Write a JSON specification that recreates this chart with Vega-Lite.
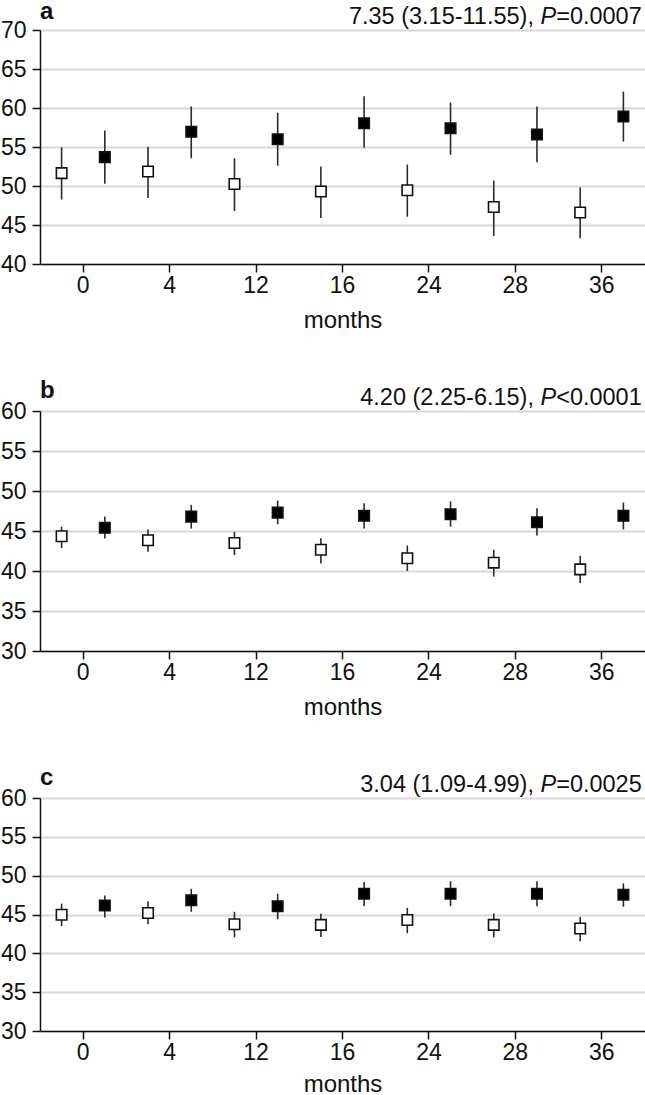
{
  "$schema": "https://vega.github.io/schema/vega-lite/v6.json",
  "padding": {"left": 0, "top": 0, "right": 0, "bottom": 0},
  "background": "white",
  "config": {
    "font": "Liberation Sans",
    "view": {"stroke": null},
    "axis": {
      "labelFont": "Liberation Sans",
      "titleFont": "Liberation Sans",
      "labelFontSize": 23,
      "titleFontSize": 24,
      "titleFontWeight": "normal",
      "labelColor": "#111",
      "titleColor": "#111",
      "domainColor": "#111",
      "domainWidth": 1.5,
      "tickColor": "#111",
      "tickWidth": 1.5,
      "tickSize": 8
    },
    "text": {"font": "Liberation Sans", "fontSize": 23.5, "color": "#111", "baseline": "alphabetic"}
  },
  "datasets": {
    "points": [
      {"panel": "a", "month": "0", "group": "open", "mean": 51.65, "lo": 48.26, "hi": 54.96},
      {"panel": "a", "month": "4", "group": "open", "mean": 51.86, "lo": 48.47, "hi": 55.04},
      {"panel": "a", "month": "12", "group": "open", "mean": 50.25, "lo": 46.8, "hi": 53.56},
      {"panel": "a", "month": "16", "group": "open", "mean": 49.3, "lo": 45.9, "hi": 52.5},
      {"panel": "a", "month": "24", "group": "open", "mean": 49.45, "lo": 46.06, "hi": 52.75},
      {"panel": "a", "month": "28", "group": "open", "mean": 47.3, "lo": 43.6, "hi": 50.7},
      {"panel": "a", "month": "36", "group": "open", "mean": 46.6, "lo": 43.3, "hi": 49.8},
      {"panel": "a", "month": "0", "group": "filled", "mean": 53.7, "lo": 50.3, "hi": 57.1},
      {"panel": "a", "month": "4", "group": "filled", "mean": 56.95, "lo": 53.56, "hi": 60.2},
      {"panel": "a", "month": "12", "group": "filled", "mean": 56.0, "lo": 52.6, "hi": 59.4},
      {"panel": "a", "month": "16", "group": "filled", "mean": 58.05, "lo": 54.9, "hi": 61.5},
      {"panel": "a", "month": "24", "group": "filled", "mean": 57.4, "lo": 54.0, "hi": 60.7},
      {"panel": "a", "month": "28", "group": "filled", "mean": 56.6, "lo": 53.05, "hi": 60.2},
      {"panel": "a", "month": "36", "group": "filled", "mean": 58.9, "lo": 55.7, "hi": 62.1},
      {"panel": "b", "month": "0", "group": "open", "mean": 44.35, "lo": 42.87, "hi": 45.54},
      {"panel": "b", "month": "4", "group": "open", "mean": 43.84, "lo": 42.4, "hi": 45.2},
      {"panel": "b", "month": "12", "group": "open", "mean": 43.5, "lo": 42.0, "hi": 44.9},
      {"panel": "b", "month": "16", "group": "open", "mean": 42.65, "lo": 40.95, "hi": 44.1},
      {"panel": "b", "month": "24", "group": "open", "mean": 41.6, "lo": 40.0, "hi": 43.2},
      {"panel": "b", "month": "28", "group": "open", "mean": 41.04, "lo": 39.3, "hi": 42.65},
      {"panel": "b", "month": "36", "group": "open", "mean": 40.2, "lo": 38.5, "hi": 41.9},
      {"panel": "b", "month": "0", "group": "filled", "mean": 45.4, "lo": 44.05, "hi": 46.8},
      {"panel": "b", "month": "4", "group": "filled", "mean": 46.8, "lo": 45.3, "hi": 48.26},
      {"panel": "b", "month": "12", "group": "filled", "mean": 47.3, "lo": 45.84, "hi": 48.8},
      {"panel": "b", "month": "16", "group": "filled", "mean": 46.9, "lo": 45.3, "hi": 48.47},
      {"panel": "b", "month": "24", "group": "filled", "mean": 47.1, "lo": 45.54, "hi": 48.7},
      {"panel": "b", "month": "28", "group": "filled", "mean": 46.1, "lo": 44.44, "hi": 47.83},
      {"panel": "b", "month": "36", "group": "filled", "mean": 46.9, "lo": 45.2, "hi": 48.56},
      {"panel": "c", "month": "0", "group": "open", "mean": 44.97, "lo": 43.5, "hi": 46.4},
      {"panel": "c", "month": "4", "group": "open", "mean": 45.2, "lo": 43.74, "hi": 46.7},
      {"panel": "c", "month": "12", "group": "open", "mean": 43.74, "lo": 42.05, "hi": 45.35},
      {"panel": "c", "month": "16", "group": "open", "mean": 43.66, "lo": 42.1, "hi": 45.1},
      {"panel": "c", "month": "24", "group": "open", "mean": 44.3, "lo": 42.6, "hi": 45.86},
      {"panel": "c", "month": "28", "group": "open", "mean": 43.66, "lo": 42.05, "hi": 45.14},
      {"panel": "c", "month": "36", "group": "open", "mean": 43.2, "lo": 41.54, "hi": 44.67},
      {"panel": "c", "month": "0", "group": "filled", "mean": 46.15, "lo": 44.6, "hi": 47.46},
      {"panel": "c", "month": "4", "group": "filled", "mean": 46.83, "lo": 45.35, "hi": 48.3},
      {"panel": "c", "month": "12", "group": "filled", "mean": 46.07, "lo": 44.38, "hi": 47.67},
      {"panel": "c", "month": "16", "group": "filled", "mean": 47.67, "lo": 46.07, "hi": 49.2},
      {"panel": "c", "month": "24", "group": "filled", "mean": 47.67, "lo": 46.07, "hi": 49.28},
      {"panel": "c", "month": "28", "group": "filled", "mean": 47.67, "lo": 46.07, "hi": 49.28},
      {"panel": "c", "month": "36", "group": "filled", "mean": 47.55, "lo": 46.0, "hi": 49.0}
    ],
    "notes": [
      {"panel": "a", "top": 70, "letter": "a", "lead": "7.35 (3.15-11.55),", "p": "P", "tail": "=0.0007"},
      {"panel": "b", "top": 60, "letter": "b", "lead": "4.20 (2.25-6.15),", "p": "P", "tail": "<0.0001"},
      {"panel": "c", "top": 60, "letter": "c", "lead": "3.04 (1.09-4.99),", "p": "P", "tail": "=0.0025"}
    ]
  },
  "spacing": 47,
  "vconcat": [
    {
      "width": 605,
      "height": 234,
      "encoding": {
        "x": {"field": "month", "type": "ordinal", "sort": ["0", "4", "12", "16", "24", "28", "36"], "scale": {"paddingInner": 0, "paddingOuter": 0}, "axis": {"labelAngle": 0, "title": "months", "labelPadding": 2, "titlePadding": 11}},
        "xOffset": {"field": "group", "type": "nominal", "scale": {"domain": ["open", "filled"]}}
      },
      "layer": [
        {
          "data": {"name": "points"},
          "transform": [{"filter": "datum.panel === 'a'"}],
          "mark": {"type": "rule", "color": "#2a2a2a", "strokeWidth": 1.6},
          "encoding": {
            "y": {"field": "lo", "type": "quantitative", "scale": {"domain": [40, 70], "nice": false, "zero": false}, "axis": {"values": [40, 45, 50, 55, 60, 65, 70], "tickCount": 7, "title": null, "grid": true, "gridColor": "#d8d8d8", "gridWidth": 2, "labelPadding": 6}},
            "y2": {"field": "hi"}
          }
        },
        {
          "data": {"name": "points"},
          "transform": [{"filter": "datum.panel === 'a'"}],
          "mark": {"type": "point", "shape": "square", "size": 110, "filled": false, "stroke": "#111", "strokeWidth": 1.6, "opacity": 1},
          "encoding": {
            "y": {"field": "mean", "type": "quantitative", "axis": {"values": [40, 45, 50, 55, 60, 65, 70], "tickCount": 7, "title": null, "grid": true, "gridColor": "#d8d8d8", "gridWidth": 2, "labelPadding": 6}},
            "fill": {"field": "group", "type": "nominal", "scale": {"domain": ["open", "filled"], "range": ["white", "black"]}, "legend": null}
          }
        },
        {
          "data": {"name": "notes"},
          "transform": [{"filter": "datum.panel === 'a'"}],
          "encoding": {
            "x": {"datum": "36", "type": "ordinal"},
            "xOffset": {"value": 0},
            "y": {"field": "top", "type": "quantitative", "axis": {"values": [40, 45, 50, 55, 60, 65, 70], "tickCount": 7, "title": null, "grid": true, "gridColor": "#d8d8d8", "gridWidth": 2, "labelPadding": 6}}
          },
          "layer": [
            {"mark": {"type": "text", "align": "right", "dx": 83.2, "dy": -6}, "encoding": {"text": {"field": "tail"}}},
            {"mark": {"type": "text", "align": "right", "fontStyle": "italic", "dx": -2.4, "dy": -6}, "encoding": {"text": {"field": "p"}}},
            {"mark": {"type": "text", "align": "right", "dx": -24.6, "dy": -6}, "encoding": {"text": {"field": "lead"}}},
            {"mark": {"type": "text", "align": "left", "fontWeight": "bold", "fontSize": 24, "dx": -518.6, "dy": -11}, "encoding": {"text": {"field": "letter"}}}
          ]
        }
      ]
    },
    {
      "width": 605,
      "height": 240,
      "encoding": {
        "x": {"field": "month", "type": "ordinal", "sort": ["0", "4", "12", "16", "24", "28", "36"], "scale": {"paddingInner": 0, "paddingOuter": 0}, "axis": {"labelAngle": 0, "title": "months", "labelPadding": 2, "titlePadding": 11}},
        "xOffset": {"field": "group", "type": "nominal", "scale": {"domain": ["open", "filled"]}}
      },
      "layer": [
        {
          "data": {"name": "points"},
          "transform": [{"filter": "datum.panel === 'b'"}],
          "mark": {"type": "rule", "color": "#2a2a2a", "strokeWidth": 1.6},
          "encoding": {
            "y": {"field": "lo", "type": "quantitative", "scale": {"domain": [30, 60], "nice": false, "zero": false}, "axis": {"values": [30, 35, 40, 45, 50, 55, 60], "tickCount": 7, "title": null, "grid": true, "gridColor": "#d8d8d8", "gridWidth": 2, "labelPadding": 6}},
            "y2": {"field": "hi"}
          }
        },
        {
          "data": {"name": "points"},
          "transform": [{"filter": "datum.panel === 'b'"}],
          "mark": {"type": "point", "shape": "square", "size": 110, "filled": false, "stroke": "#111", "strokeWidth": 1.6, "opacity": 1},
          "encoding": {
            "y": {"field": "mean", "type": "quantitative", "axis": {"values": [30, 35, 40, 45, 50, 55, 60], "tickCount": 7, "title": null, "grid": true, "gridColor": "#d8d8d8", "gridWidth": 2, "labelPadding": 6}},
            "fill": {"field": "group", "type": "nominal", "scale": {"domain": ["open", "filled"], "range": ["white", "black"]}, "legend": null}
          }
        },
        {
          "data": {"name": "notes"},
          "transform": [{"filter": "datum.panel === 'b'"}],
          "encoding": {
            "x": {"datum": "36", "type": "ordinal"},
            "xOffset": {"value": 0},
            "y": {"field": "top", "type": "quantitative", "axis": {"values": [30, 35, 40, 45, 50, 55, 60], "tickCount": 7, "title": null, "grid": true, "gridColor": "#d8d8d8", "gridWidth": 2, "labelPadding": 6}}
          },
          "layer": [
            {"mark": {"type": "text", "align": "right", "dx": 83.2, "dy": -6}, "encoding": {"text": {"field": "tail"}}},
            {"mark": {"type": "text", "align": "right", "fontStyle": "italic", "dx": -2.4, "dy": -6}, "encoding": {"text": {"field": "p"}}},
            {"mark": {"type": "text", "align": "right", "dx": -24.6, "dy": -6}, "encoding": {"text": {"field": "lead"}}},
            {"mark": {"type": "text", "align": "left", "fontWeight": "bold", "fontSize": 24, "dx": -518.6, "dy": -13}, "encoding": {"text": {"field": "letter"}}}
          ]
        }
      ]
    },
    {
      "width": 605,
      "height": 233,
      "encoding": {
        "x": {"field": "month", "type": "ordinal", "sort": ["0", "4", "12", "16", "24", "28", "36"], "scale": {"paddingInner": 0, "paddingOuter": 0}, "axis": {"labelAngle": 0, "title": "months", "labelPadding": 2, "titlePadding": 8}},
        "xOffset": {"field": "group", "type": "nominal", "scale": {"domain": ["open", "filled"]}}
      },
      "layer": [
        {
          "data": {"name": "points"},
          "transform": [{"filter": "datum.panel === 'c'"}],
          "mark": {"type": "rule", "color": "#2a2a2a", "strokeWidth": 1.6},
          "encoding": {
            "y": {"field": "lo", "type": "quantitative", "scale": {"domain": [30, 60], "nice": false, "zero": false}, "axis": {"values": [30, 35, 40, 45, 50, 55, 60], "tickCount": 7, "title": null, "grid": true, "gridColor": "#d8d8d8", "gridWidth": 2, "labelPadding": 6}},
            "y2": {"field": "hi"}
          }
        },
        {
          "data": {"name": "points"},
          "transform": [{"filter": "datum.panel === 'c'"}],
          "mark": {"type": "point", "shape": "square", "size": 110, "filled": false, "stroke": "#111", "strokeWidth": 1.6, "opacity": 1},
          "encoding": {
            "y": {"field": "mean", "type": "quantitative", "axis": {"values": [30, 35, 40, 45, 50, 55, 60], "tickCount": 7, "title": null, "grid": true, "gridColor": "#d8d8d8", "gridWidth": 2, "labelPadding": 6}},
            "fill": {"field": "group", "type": "nominal", "scale": {"domain": ["open", "filled"], "range": ["white", "black"]}, "legend": null}
          }
        },
        {
          "data": {"name": "notes"},
          "transform": [{"filter": "datum.panel === 'c'"}],
          "encoding": {
            "x": {"datum": "36", "type": "ordinal"},
            "xOffset": {"value": 0},
            "y": {"field": "top", "type": "quantitative", "axis": {"values": [30, 35, 40, 45, 50, 55, 60], "tickCount": 7, "title": null, "grid": true, "gridColor": "#d8d8d8", "gridWidth": 2, "labelPadding": 6}}
          },
          "layer": [
            {"mark": {"type": "text", "align": "right", "dx": 83.2, "dy": -6}, "encoding": {"text": {"field": "tail"}}},
            {"mark": {"type": "text", "align": "right", "fontStyle": "italic", "dx": -2.4, "dy": -6}, "encoding": {"text": {"field": "p"}}},
            {"mark": {"type": "text", "align": "right", "dx": -24.6, "dy": -6}, "encoding": {"text": {"field": "lead"}}},
            {"mark": {"type": "text", "align": "left", "fontWeight": "bold", "fontSize": 24, "dx": -518.6, "dy": -13}, "encoding": {"text": {"field": "letter"}}}
          ]
        }
      ]
    }
  ]
}
